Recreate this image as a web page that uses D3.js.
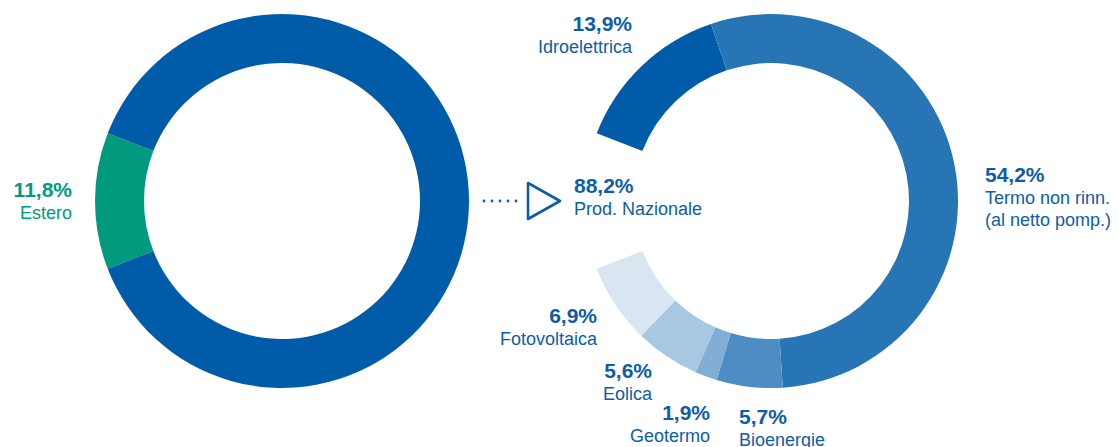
<!DOCTYPE html>
<html>
<head>
<meta charset="utf-8">
<script src="https://cdn.jsdelivr.net/npm/d3@7"></script>
<style>
  body { margin: 0; background: #fff; }
  svg { display: block; font-family: "Liberation Sans", Arial, Helvetica, sans-serif; }
  .pct { font-weight: bold; font-size: 21px; }
  .lbl { font-size: 18px; }
</style>
</head>
<body>
<svg id="chart" width="1118" height="447"></svg>
<script>
// left donut: origine dell'energia richiesta
const mixLabels = ["Estero", "Prod. Nazionale"];
const mixValues = [11.8, 88.2];
const mixPct = ["11,8%", "88,2%"];

// right donut: produzione nazionale per fonte
const prodLabels = ["Idroelettrica", "Termo non rinn.|(al netto pomp.)", "Bioenergie", "Geotermo", "Eolica", "Fotovoltaica"];
const prodValues = [13.9, 54.2, 5.7, 1.9, 5.6, 6.9];
const prodPct = ["13,9%", "54,2%", "5,7%", "1,9%", "5,6%", "6,9%"];

const mixColors = ["#009b7e", "#005ca9"];
const prodColors = ["#005ca9", "#2875b5", "#4e8dc3", "#80aed5", "#a8c7e2", "#d9e6f2"];
const textBlue = "#0e5da7";
const textGreen = "#009b7e";

const svg = d3.select("#chart");
const outerR = 187, innerR = 138;
const cy = 201;

// Estero slice sits centred on the left side (270deg)
const esteroShare = mixValues[0] / d3.sum(mixValues);
const esteroStart = 1.5 * Math.PI - esteroShare * Math.PI;

const arc = d3.arc().innerRadius(innerR).outerRadius(outerR);

// ---- left donut
const leftPie = d3.pie().sort(null)
  .startAngle(esteroStart)
  .endAngle(esteroStart + 2 * Math.PI);

svg.append("g")
  .attr("transform", `translate(282,${cy})`)
  .selectAll("path")
  .data(leftPie(mixValues))
  .enter().append("path")
  .attr("d", arc)
  .attr("fill", (d, i) => mixColors[i]);

// ---- right donut (same angles, estero gap left empty)
const rightStart = esteroStart + esteroShare * 2 * Math.PI;
const rightPie = d3.pie().sort(null)
  .startAngle(rightStart)
  .endAngle(esteroStart + 2 * Math.PI);

svg.append("g")
  .attr("transform", `translate(771,${cy})`)
  .selectAll("path")
  .data(rightPie(prodValues))
  .enter().append("path")
  .attr("d", arc)
  .attr("fill", (d, i) => prodColors[i]);

// ---- connector: dots + triangle
const dots = d3.range(5);
const dotX = d3.scaleLinear().domain([0, 4]).range([484, 516]);
svg.append("g")
  .selectAll("circle")
  .data(dots)
  .enter().append("circle")
  .attr("cx", d => dotX(d))
  .attr("cy", cy)
  .attr("r", 1.4)
  .attr("fill", textBlue);

svg.append("path")
  .attr("d", `M528,${cy - 18} L560,${cy} L528,${cy + 18} Z`)
  .attr("fill", "none")
  .attr("stroke", textBlue)
  .attr("stroke-width", 2.6)
  .attr("stroke-linejoin", "round");

// ---- labels
function addLabel(x, y, anchor, pct, name, color) {
  const g = svg.append("g").attr("fill", color).attr("text-anchor", anchor);
  g.append("text").attr("class", "pct").attr("x", x).attr("y", y).text(pct);
  name.split("|").forEach((line, k) => {
    g.append("text").attr("class", "lbl")
      .attr("x", x).attr("y", y + 22 * (k + 1))
      .text(line);
  });
}

// label anchor spots, in the same order as the data arrays
const mixLabelPos = [[72, 197, "end"], [574, 193, "start"]];
const prodLabelPos = [
  [632, 31, "end"],
  [985, 182, "start"],
  [739, 424, "start"],
  [710, 420, "end"],
  [652, 378, "end"],
  [597, 323, "end"]
];

mixLabels.forEach((name, i) => {
  const p = mixLabelPos[i];
  addLabel(p[0], p[1], p[2], mixPct[i], name, i === 0 ? textGreen : textBlue);
});
prodLabels.forEach((name, i) => {
  const p = prodLabelPos[i];
  addLabel(p[0], p[1], p[2], prodPct[i], name, textBlue);
});
</script>
</body>
</html>
